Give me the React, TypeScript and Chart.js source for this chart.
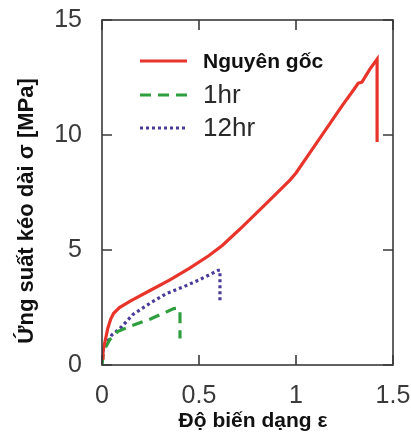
import React, { useEffect, useRef } from "react";
import { Chart, registerables } from "chart.js";

Chart.register(...registerables);

const seriesNames = ["Nguyên gốc", "1hr", "12hr"];

const originalX = [0, 0.005, 0.015, 0.03, 0.045, 0.06, 0.09, 0.15, 0.25, 0.35, 0.45, 0.55, 0.62, 0.71, 0.85, 0.97, 1.0, 1.11, 1.24, 1.3, 1.32, 1.34, 1.38, 1.405, 1.418, 1.418];
const originalY = [0.3, 0.6, 1.0, 1.6, 2.0, 2.25, 2.5, 2.8, 3.25, 3.7, 4.2, 4.75, 5.2, 5.9, 7.05, 8.05, 8.35, 9.7, 11.3, 12.0, 12.25, 12.3, 12.85, 13.15, 13.3, 9.7];

const hr1X = [0, 0.005, 0.02, 0.04, 0.08, 0.15, 0.25, 0.33, 0.37, 0.395, 0.402, 0.402];
const hr1Y = [0, 0.4, 0.8, 1.1, 1.45, 1.7, 2.0, 2.3, 2.45, 2.47, 2.35, 1.15];

const hr12X = [0, 0.005, 0.02, 0.05, 0.1, 0.16, 0.25, 0.33, 0.42, 0.5, 0.56, 0.6, 0.608, 0.608];
const hr12Y = [0.3, 0.6, 0.9, 1.3, 1.65, 2.2, 2.7, 3.1, 3.4, 3.7, 3.95, 4.12, 4.12, 2.75];

const xTicks = [0, 0.5, 1, 1.5];
const yTicks = [0, 5, 10, 15];

const xTitle = "Độ biến dạng ε";
const yTitle = "Ứng suất kéo dài σ [MPa]";

const colors = ["#e8352c", "#2e9e3e", "#4a3b98"];
const dashes: number[][] = [[], [11, 7], [3, 3]];

const toPoints = (xs: number[], ys: number[]) => xs.map((x, i) => ({ x, y: ys[i] }));

const framePlugin = {
  id: "frame",
  afterDraw(chart: any) {
    const { ctx, chartArea } = chart;
    const { left, right, top, bottom } = chartArea;
    const xs = chart.scales.x;
    const ys = chart.scales.y;
    ctx.save();
    ctx.strokeStyle = "#3a3a3a";
    ctx.lineWidth = 1.6;
    ctx.strokeRect(left, top, right - left, bottom - top);
    const tl = 10;
    ctx.beginPath();
    xTicks.forEach((v) => {
      const px = xs.getPixelForValue(v);
      ctx.moveTo(px, bottom);
      ctx.lineTo(px, bottom - tl);
      ctx.moveTo(px, top);
      ctx.lineTo(px, top + tl);
    });
    yTicks.forEach((v) => {
      const py = ys.getPixelForValue(v);
      ctx.moveTo(left, py);
      ctx.lineTo(left + tl, py);
      ctx.moveTo(right, py);
      ctx.lineTo(right - tl, py);
    });
    ctx.stroke();

    // legend
    const rows = [41, 75, 108];
    const fonts = [
      "bold 21px 'Liberation Sans', Arial, sans-serif",
      "26px 'Liberation Sans', Arial, sans-serif",
      "26px 'Liberation Sans', Arial, sans-serif",
    ];
    seriesNames.forEach((name, i) => {
      const y = top + rows[i];
      ctx.beginPath();
      ctx.setLineDash(dashes[i]);
      ctx.strokeStyle = colors[i];
      ctx.lineWidth = 3;
      ctx.moveTo(left + 38, y);
      ctx.lineTo(left + 85, y);
      ctx.stroke();
      ctx.setLineDash([]);
      ctx.fillStyle = i === 0 ? "#111" : "#2a2a2a";
      ctx.font = fonts[i];
      ctx.textAlign = "left";
      ctx.textBaseline = "middle";
      ctx.fillText(name, left + 101, y + 1);
    });

    // axis titles
    ctx.fillStyle = "#111";
    ctx.font = "bold 21px 'Liberation Sans', Arial, sans-serif";
    ctx.textAlign = "center";
    ctx.textBaseline = "middle";
    ctx.fillText(xTitle, 253, 421);
    ctx.save();
    ctx.translate(27, 211);
    ctx.rotate(-Math.PI / 2);
    ctx.font = "bold 22px 'Liberation Sans', Arial, sans-serif";
    ctx.fillText(yTitle, 0, 0);
    ctx.restore();
    ctx.restore();
  },
};

export default function App() {
  const ref = useRef<HTMLCanvasElement | null>(null);
  useEffect(() => {
    if (!ref.current) return;
    const datasets = [
      toPoints(originalX, originalY),
      toPoints(hr1X, hr1Y),
      toPoints(hr12X, hr12Y),
    ].map((data, i) => ({
      label: seriesNames[i],
      data,
      showLine: true,
      borderColor: colors[i],
      backgroundColor: colors[i],
      borderWidth: 3.2,
      borderDash: dashes[i],
      pointRadius: 0,
      tension: 0,
      fill: false,
    }));
    const tickFont = { family: "'Liberation Sans', Arial, sans-serif", size: 25 };
    const chart = new Chart(ref.current, {
      type: "scatter",
      data: { datasets: datasets as any },
      options: {
        animation: false,
        responsive: true,
        maintainAspectRatio: false,
        layout: { padding: { top: 20, right: 18, left: 0, bottom: 0 } },
        plugins: { legend: { display: false }, tooltip: { enabled: false } },
        scales: {
          x: {
            type: "linear",
            min: 0,
            max: 1.5,
            grid: { display: false },
            border: { display: false },
            afterFit: (s: any) => {
              s.height = 70;
              s.paddingRight = 0;
              s.paddingLeft = 0;
            },
            afterBuildTicks: (s: any) => {
              s.ticks = xTicks.map((v) => ({ value: v }));
            },
            ticks: {
              font: tickFont,
              color: "#3a3a3a",
              padding: 8,
              maxRotation: 0,
              callback: (v: any) => String(v),
            },
          },
          y: {
            type: "linear",
            min: 0,
            max: 15,
            grid: { display: false },
            border: { display: false },
            afterFit: (s: any) => {
              s.width = 102;
              s.paddingTop = 0;
              s.paddingBottom = 0;
            },
            afterBuildTicks: (s: any) => {
              s.ticks = yTicks.map((v) => ({ value: v }));
            },
            ticks: {
              font: tickFont,
              color: "#3a3a3a",
              padding: 12,
              callback: (v: any) => String(v),
            },
          },
        },
      },
      plugins: [framePlugin],
    });
    return () => chart.destroy();
  }, []);
  return (
    <div style={{ position: "fixed", left: 0, top: 0, width: 411, height: 435, background: "#fff" }}>
      <canvas ref={ref} />
    </div>
  );
}
